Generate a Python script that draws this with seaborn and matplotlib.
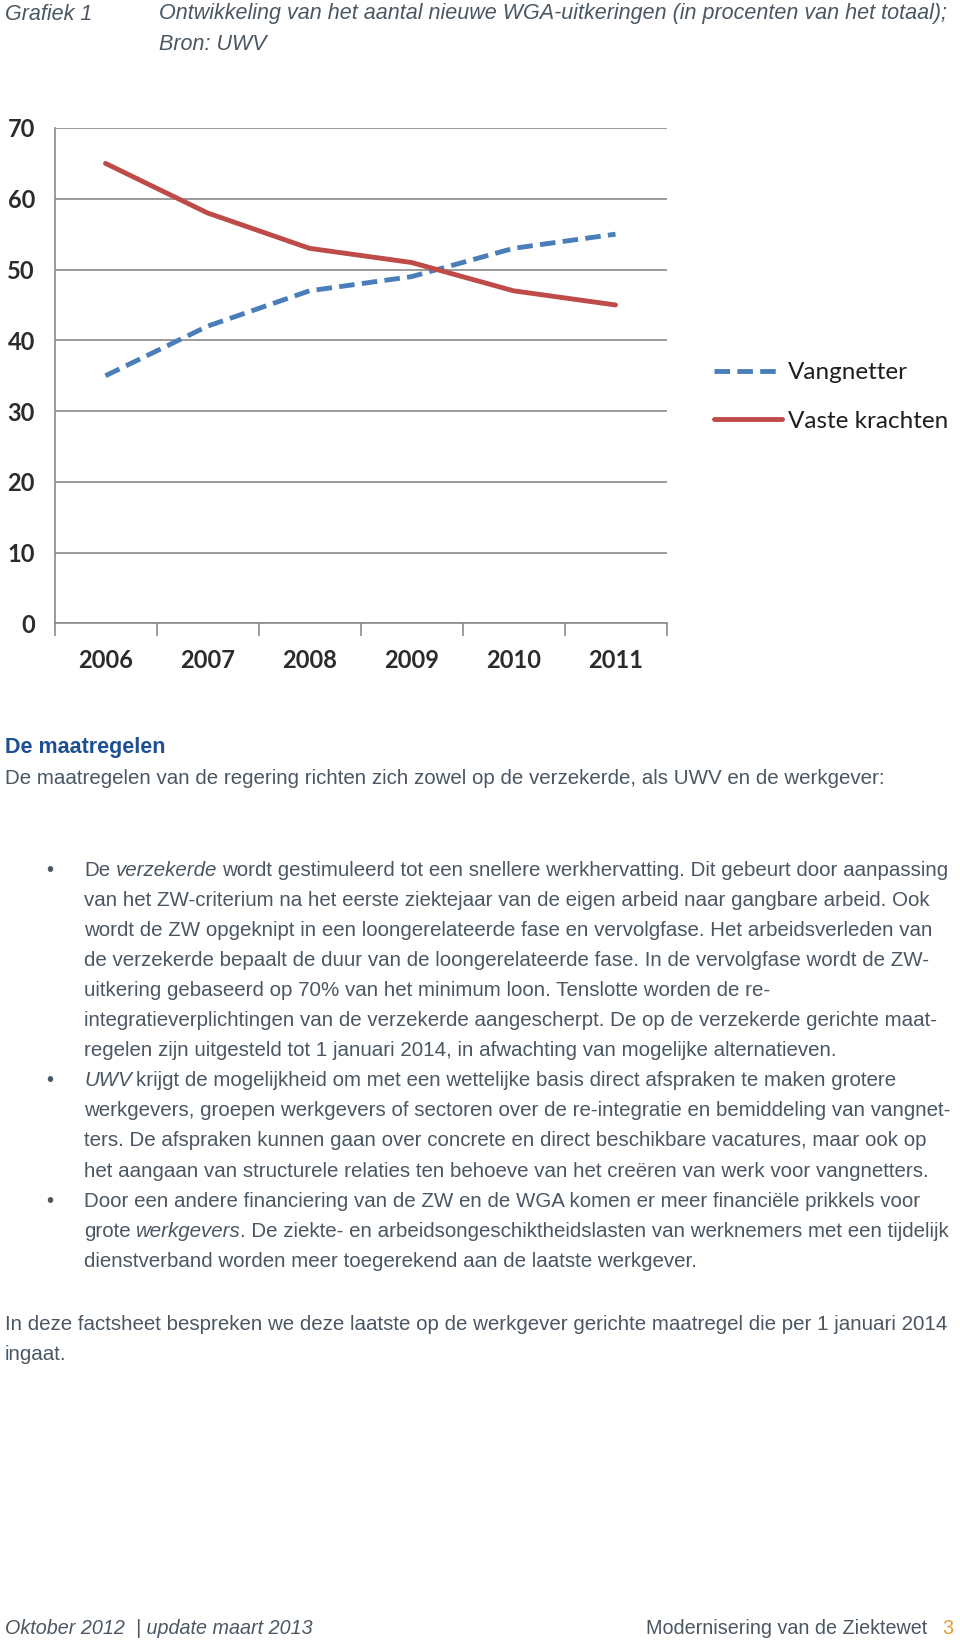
import matplotlib
matplotlib.use("Agg")
import numpy as np
import pandas as pd
import matplotlib.pyplot as plt
import seaborn as sns

# ---------------- Data ----------------
years = ["2006", "2007", "2008", "2009", "2010", "2011"]
vangnetter = [35, 42, 47, 49, 53, 55]
vaste_krachten = [65, 58, 53, 51, 47, 45]
series_names = ["Vangnetter", "Vaste krachten"]
y_ticks = [0, 10, 20, 30, 40, 50, 60, 70]

title_label = "Grafiek 1"
title_lines = ["Ontwikkeling van het aantal nieuwe WGA-uitkeringen (in procenten van het totaal);",
               "Bron: UWV"]
heading = "De maatregelen"
intro = "De maatregelen van de regering richten zich zowel op de verzekerde, als UWV en de werkgever:"

# each line: bullet flag, list of (text, italic) segments
bullet_lines = [
    (True, [("De", False), ("verzekerde", True), ("wordt gestimuleerd tot een snellere werkhervatting. Dit gebeurt door aanpassing", False)]),
    (False, [("van het ZW-criterium na het eerste ziektejaar van de eigen arbeid naar gangbare arbeid. Ook", False)]),
    (False, [("wordt de ZW opgeknipt in een loongerelateerde fase en vervolgfase. Het arbeidsverleden van", False)]),
    (False, [("de verzekerde bepaalt de duur van de loongerelateerde fase. In de vervolgfase wordt de ZW-", False)]),
    (False, [("uitkering gebaseerd op 70% van het minimum loon. Tenslotte worden de re-", False)]),
    (False, [("integratieverplichtingen van de verzekerde aangescherpt. De op de verzekerde gerichte maat-", False)]),
    (False, [("regelen zijn uitgesteld tot 1 januari 2014, in afwachting van mogelijke alternatieven.", False)]),
    (True, [("UWV", True), ("krijgt de mogelijkheid om met een wettelijke basis direct afspraken te maken grotere", False)]),
    (False, [("werkgevers, groepen werkgevers of sectoren over de re-integratie en bemiddeling van vangnet-", False)]),
    (False, [("ters. De afspraken kunnen gaan over concrete en direct beschikbare vacatures, maar ook op", False)]),
    (False, [("het aangaan van structurele relaties ten behoeve van het creëren van werk voor vangnetters.", False)]),
    (True, [("Door een andere financiering van de ZW en de WGA komen er meer financiële prikkels voor", False)]),
    (False, [("grote", False), ("werkgevers", True), (". De ziekte- en arbeidsongeschiktheidslasten van werknemers met een tijdelijk", False)]),
    (False, [("dienstverband worden meer toegerekend aan de laatste werkgever.", False)]),
]
closing = ["In deze factsheet bespreken we deze laatste op de werkgever gerichte maatregel die per 1 januari 2014",
           "ingaat."]
footer_left = "Oktober 2012  | update maart 2013"
footer_right = "Modernisering van de Ziektewet"
page_no = "3"

df = pd.DataFrame({
    "pos": list(range(len(years))) * 2,
    "value": vangnetter + vaste_krachten,
    "serie": [series_names[0]] * len(years) + [series_names[1]] * len(years),
})

# ---------------- Setup ----------------
sns.set_theme(style="white")
plt.rcParams["font.family"] = ["Liberation Sans", "DejaVu Sans"]

W, H = 960, 1644
fig = plt.figure(figsize=(W / 100, H / 100), dpi=100)
fig.patch.set_facecolor("white")

TEXT = "#4a5763"
FS = 14.8

# ---------------- Chart ----------------
ax = fig.add_axes([54.5 / W, 1 - 623.5 / H, 612 / W, 495.5 / H])

sns.lineplot(
    data=df, x="pos", y="value", hue="serie", style="serie",
    palette={"Vangnetter": "#4a7ebb", "Vaste krachten": "#be4b48"},
    dashes={"Vangnetter": (3.2, 1.5), "Vaste krachten": ""},
    linewidth=3.5, legend=False, ax=ax,
)

ax.set_xlim(-0.5, len(years) - 0.5)
ax.set_ylim(0, 70)
ax.set_yticks(y_ticks)
ax.yaxis.grid(True, color="#8a8a8a", linewidth=1.2)
ax.set_axisbelow(True)
ax.set_xlabel("")
ax.set_ylabel("")

ax.set_xticks(np.arange(-0.5, len(years), 1.0))
ax.set_xticklabels([])
ax.set_xticks(np.arange(len(years)), minor=True)
ax.set_xticklabels(years, minor=True)
ax.tick_params(axis="x", which="major", length=9, width=1.2, color="#8a8a8a", direction="out", bottom=True)
ax.tick_params(axis="x", which="minor", length=0, pad=18, labelsize=17, labelcolor="#2b2b2b")
ax.tick_params(axis="y", length=0, pad=14, labelsize=17, labelcolor="#2b2b2b")
for lab in ax.get_xticklabels(minor=True) + ax.get_yticklabels():
    lab.set_family(["Lato", "DejaVu Sans"])
    lab.set_fontweight("bold")

for side in ["top", "right"]:
    ax.spines[side].set_visible(False)
for side in ["left", "bottom"]:
    ax.spines[side].set_color("#8a8a8a")
    ax.spines[side].set_linewidth(1.2)

handles = ax.get_lines()[:2]
fig.legend(
    handles, series_names,
    loc="center left", bbox_to_anchor=(692 / W, 1 - 397 / H),
    frameon=False, prop={"family": ["Lato", "DejaVu Sans"], "size": 17.5},
    handlelength=2.8, handletextpad=0.25, labelspacing=1.15, labelcolor="#1e1e1e",
)

# ---------------- Page text ----------------
renderer = fig.canvas.get_renderer()


def text_width(s, **kw):
    t = fig.text(0, 0, s, fontsize=FS, **kw)
    w = t.get_window_extent(renderer).width
    t.remove()
    return w


space_w = text_width("a a") - text_width("aa")


def put_line(x_px, y_px, parts, color=TEXT):
    x = x_px
    prev_italic = False
    for i, (s, it) in enumerate(parts):
        if i == 0:
            lead = 0
        elif s.startswith((".", ",")):
            lead = -1.5 if prev_italic else 0
        else:
            lead = space_w - (1 if prev_italic else 0)
        x += lead
        t = fig.text(x / W, 1 - y_px / H, s, fontsize=FS, color=color,
                     style="italic" if it else "normal", va="center", ha="left")
        x = t.get_window_extent(renderer).x1
        prev_italic = it


fig.text(5 / W, 1 - 14 / H, title_label, fontsize=15.5, style="italic", color=TEXT, va="center")
fig.text(159 / W, 1 - 14 / H, title_lines[0], fontsize=15.5, style="italic", color=TEXT, va="center")
fig.text(159 / W, 1 - 45 / H, title_lines[1], fontsize=15.5, style="italic", color=TEXT, va="center")

fig.text(5 / W, 1 - 747 / H, heading, fontsize=15.5, fontweight="bold", color="#1d4f91", va="center")
fig.text(5 / W, 1 - 779 / H, intro, fontsize=FS, color=TEXT, va="center")

y0, step = 870, 30.1
for i, (is_bullet, parts) in enumerate(bullet_lines):
    y = y0 + i * step
    if is_bullet:
        fig.text(50 / W, 1 - y / H, "•", fontsize=FS, color=TEXT, va="center", ha="center")
    put_line(84, y, parts)

fig.text(5 / W, 1 - 1324 / H, closing[0], fontsize=FS, color=TEXT, va="center")
fig.text(5 / W, 1 - 1354 / H, closing[1], fontsize=FS, color=TEXT, va="center")

fig.text(5 / W, 1 - 1628 / H, footer_left, fontsize=14.2, style="italic", color=TEXT, va="center")
fig.text(927 / W, 1 - 1628 / H, footer_right, fontsize=14.2, color=TEXT, va="center", ha="right")
fig.text(948 / W, 1 - 1628 / H, page_no, fontsize=14.2, color="#e39b2e", va="center", ha="center")

fig.savefig("out.png", dpi=100, facecolor="white")
